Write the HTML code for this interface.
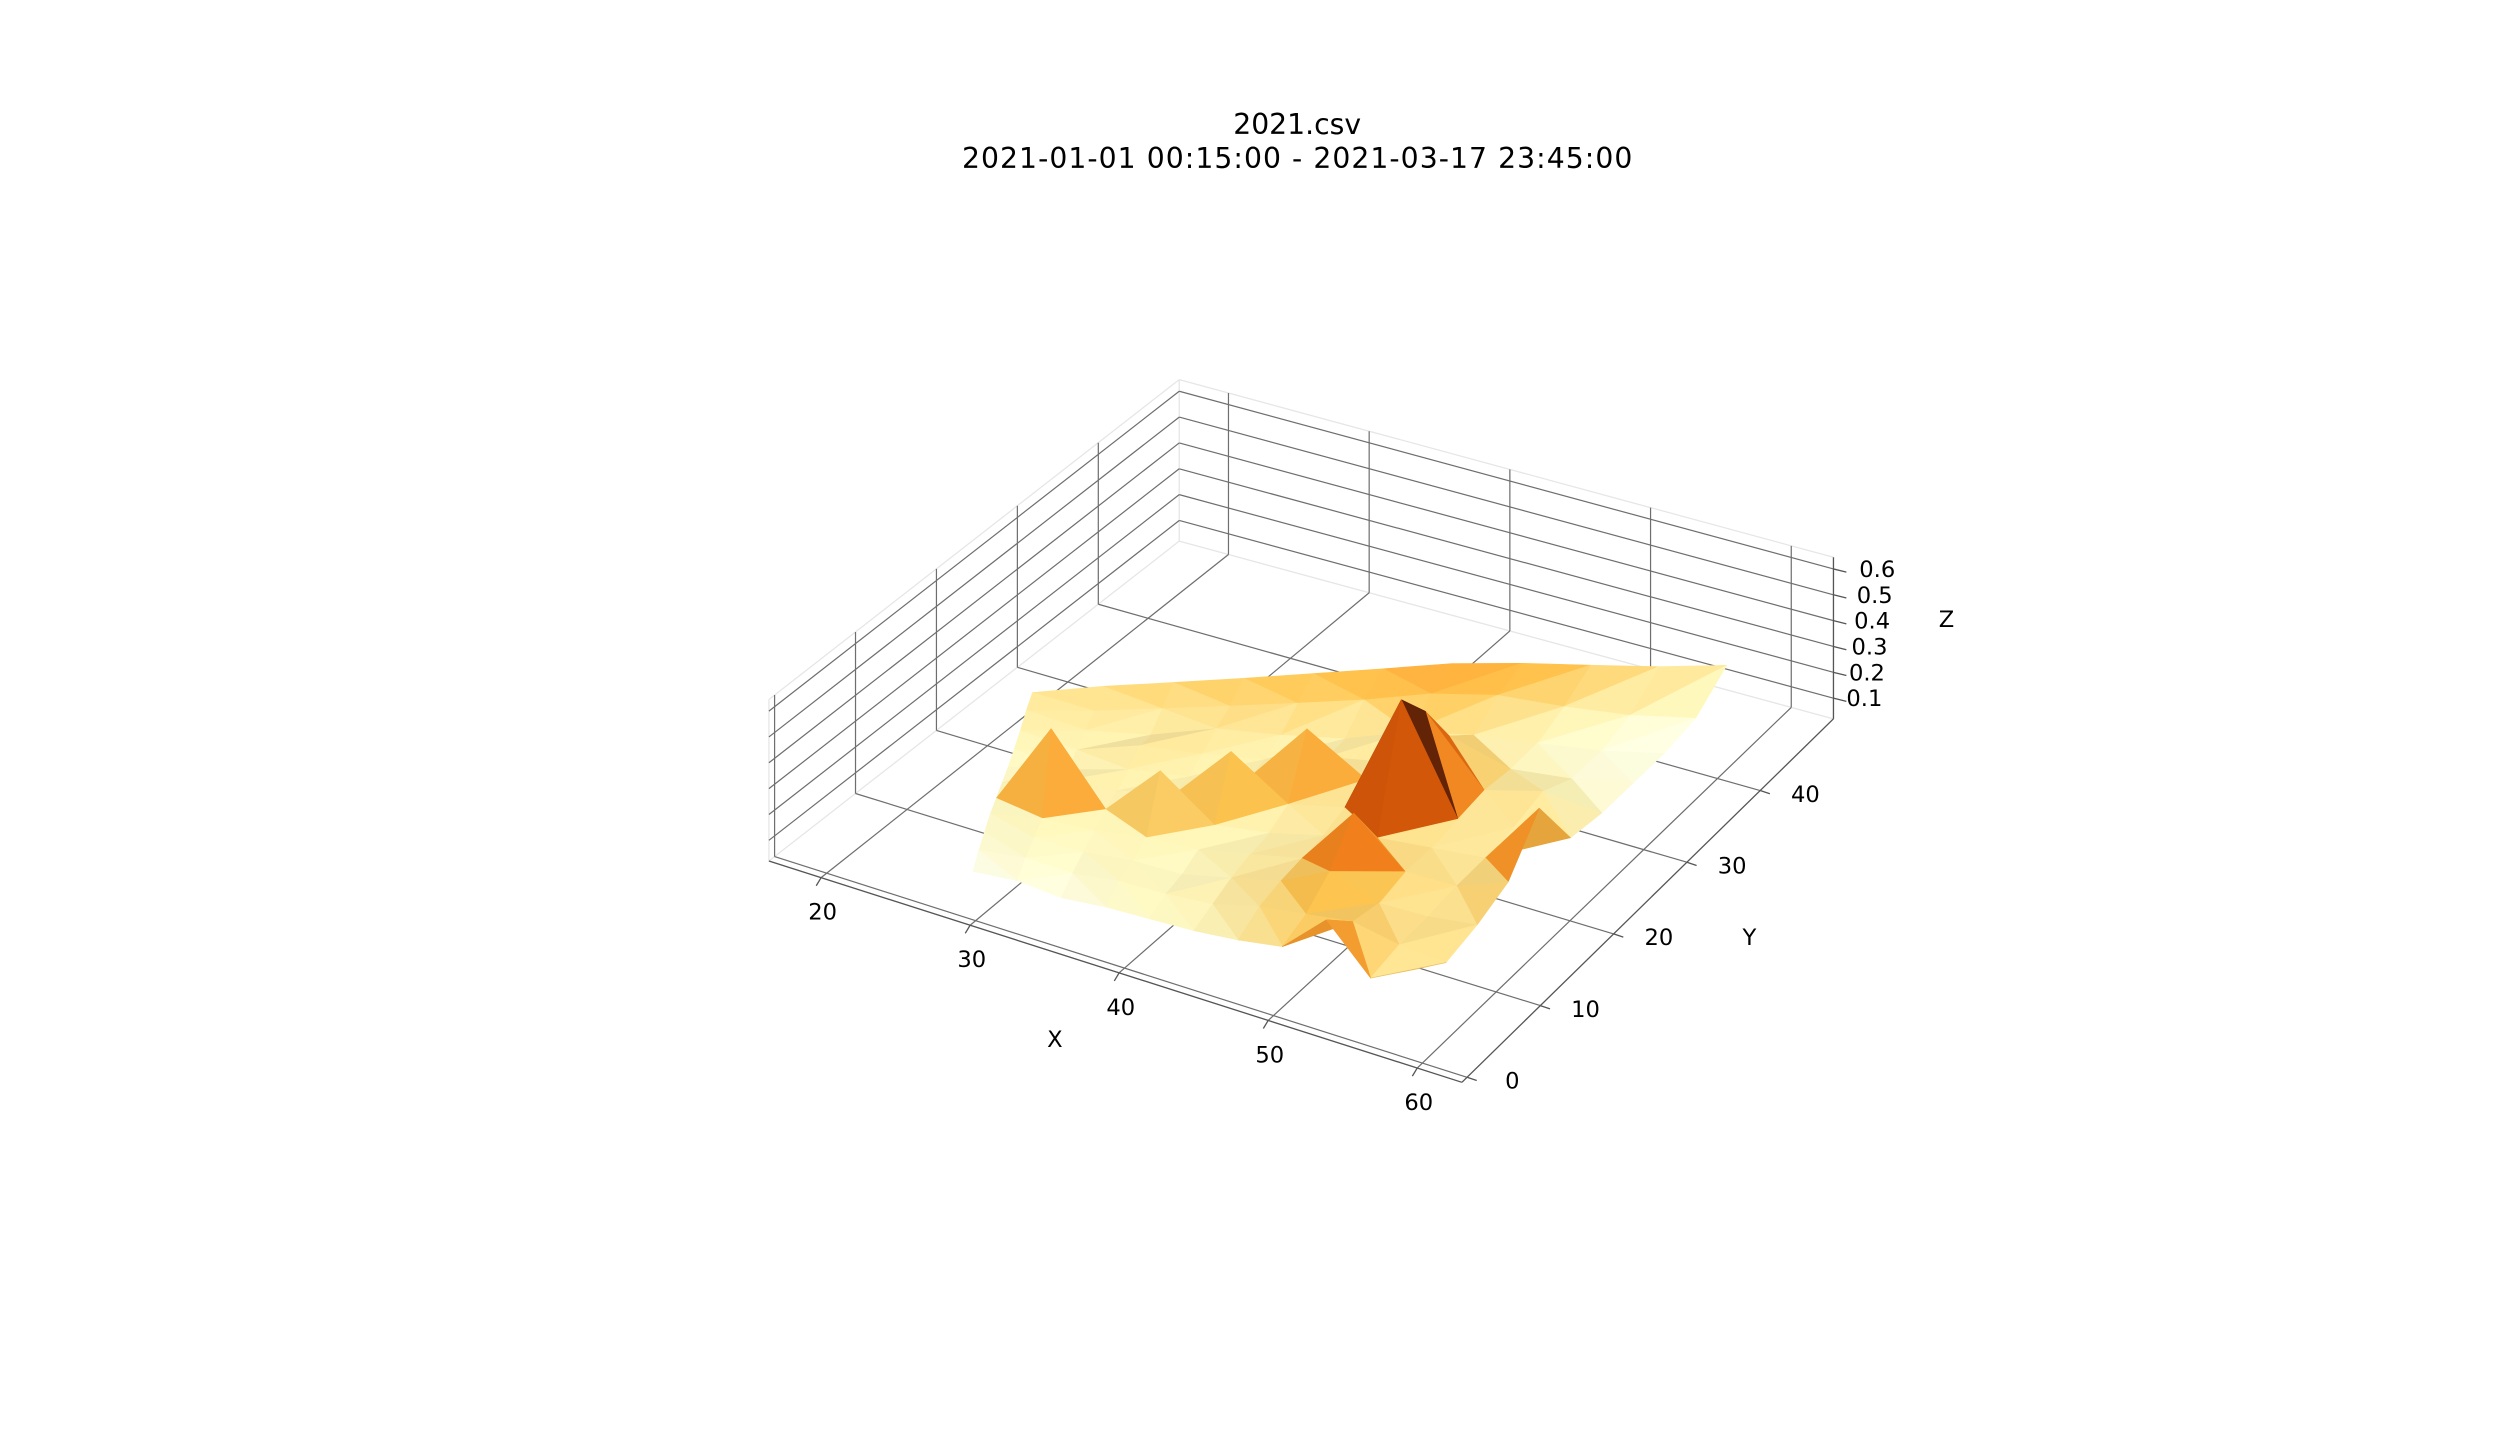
<!DOCTYPE html>
<html><head><meta charset="utf-8"><style>
html,body{margin:0;padding:0;background:#fff}
svg{display:block}
text{font-family:"DejaVu Sans","Liberation Sans",sans-serif;fill:#000}
</style></head><body>
<svg id="chart" width="2520" height="1440" viewBox="0 0 1560 891.43" xmlns="http://www.w3.org/2000/svg">
<rect width="1560" height="891.43" fill="#fff"/>
<text x="803" y="83" text-anchor="middle" font-size="17.5">2021.csv</text>
<text x="803" y="104" text-anchor="middle" font-size="17.5" textLength="415">2021-01-01 00:15:00 - 2021-03-17 23:45:00</text>
<g id="grid"></g>
<g id="surf"></g>
<g id="axes"></g>
</svg>
<script>
const xTicks=[20,30,40,50,60];
const yTicks=[0,10,20,30,40];
const zTicks=[0.1,0.2,0.3,0.4,0.5,0.6];
const zTickLabels=["0.1","0.2","0.3","0.4","0.5","0.6"];
const hullX=[28.5,58.5,57,22];
const hullY=[2.5,2,47,22];
const zRow0=[0.12,0.14,0.13,0.15,0.16,0.17,0.19,0.22,0.38,0.21,0.30];
const zRow1=[0.14,0.16,0.15,0.17,0.17,0.18,0.22,0.24,0.26,0.22,0.20];
const zRow2=[0.15,0.17,0.16,0.17,0.16,0.19,0.22,0.30,0.22,0.21,0.22];
const zRow3=[0.16,0.18,0.17,0.18,0.17,0.19,0.21,0.42,0.23,0.21,0.26];
const zRow4=[0.16,0.46,0.18,0.36,0.18,0.18,0.20,0.22,0.21,0.20,0.42];
const zRow5=[0.16,0.19,0.18,0.19,0.38,0.20,0.21,0.65,0.21,0.20,0.18];
const zRow6=[0.16,0.17,0.19,0.18,0.19,0.40,0.22,0.50,0.21,0.22,0.15];
const zRow7=[0.17,0.18,0.21,0.19,0.18,0.20,0.19,0.30,0.18,0.15,0.14];
const zRow8=[0.18,0.19,0.18,0.21,0.19,0.18,0.21,0.20,0.17,0.14,0.13];
const zRow9=[0.20,0.20,0.21,0.22,0.23,0.24,0.26,0.25,0.20,0.16,0.14];
const zRow10=[0.21,0.23,0.24,0.25,0.26,0.27,0.28,0.27,0.25,0.23,0.22];
const zRows=[zRow0,zRow1,zRow2,zRow3,zRow4,zRow5,zRow6,zRow7,zRow8,zRow9,zRow10];

const X0=16.5,X1=63,Y0=-0.7,Y1=50,Z0=0.02,Z1=0.645,ZS=160;
const F00=[476,533],F10=[905,670],F11=[1135,445],F01=[730,335];
function P(x,y,z){
  const u=(x-X0)/(X1-X0),v=(y-Y0)/(Y1-Y0);
  const a=(1-u)*(1-v),b=u*(1-v),c=u*v,d=(1-u)*v;
  return [a*F00[0]+b*F10[0]+c*F11[0]+d*F01[0], a*F00[1]+b*F10[1]+c*F11[1]+d*F01[1]-(z-Z0)*ZS];
}
const NS="http://www.w3.org/2000/svg";
function mk(tag,attrs,parent){const e=document.createElementNS(NS,tag);for(const k in attrs)e.setAttribute(k,attrs[k]);parent.appendChild(e);return e;}
function line(p,q,col,w,parent,name){
  const e=mk('line',{x1:p[0],y1:p[1],x2:q[0],y2:q[1],stroke:col,'stroke-width':w},parent);
  
  
  return e;
}
const grid=document.getElementById('grid'),axes=document.getElementById('axes'),surf=document.getElementById('surf');
const GC="#6e6e6e",GW=0.75,EC="#e6e6e6";
line(P(X0,Y0,Z1),P(X0,Y1,Z1),EC,0.8,grid,'pane-edge');
line(P(X0,Y1,Z1),P(X1,Y1,Z1),EC,0.8,grid,'pane-edge');
line(P(X0,Y1,Z0),P(X0,Y1,Z1),EC,0.8,grid,'pane-edge');
line(P(X0,Y0,Z0),P(X0,Y1,Z0),EC,0.8,grid,'pane-edge');
line(P(X0,Y1,Z0),P(X1,Y1,Z0),EC,0.8,grid,'pane-edge');
line(P(X0,Y0,Z0),P(X0,Y0,Z1),EC,0.8,grid,'pane-edge');
line(P(X1,Y1,Z0),P(X1,Y1,Z1),EC,0.8,grid,'pane-edge');
line(P(X0,Y0,Z0),P(X1,Y0,Z0),EC,0.8,grid,'pane-edge');
line(P(X1,Y0,Z0),P(X1,Y1,Z0),EC,0.8,grid,'pane-edge');
zTicks.forEach(z=>{
  line(P(X0,Y0,z),P(X0,Y1,z),GC,GW,grid,'z-gridline-left');
  line(P(X0,Y1,z),P(X1,Y1,z),GC,GW,grid,'z-gridline-back');
});
xTicks.forEach(x=>{
  line(P(x,Y0,Z0),P(x,Y1,Z0),GC,GW,grid,'x-gridline-floor');
  line(P(x,Y1,Z0),P(x,Y1,Z1),GC,GW,grid,'x-gridline-back');
});
yTicks.forEach(y=>{
  line(P(X0,y,Z0),P(X1,y,Z0),GC,GW,grid,'y-gridline-floor');
  line(P(X0,y,Z0),P(X0,y,Z1),GC,GW,grid,'y-gridline-left');
});
const cm=[[255,255,229],[255,247,188],[254,227,145],[254,196,79],[254,153,41],[236,112,20],[204,76,2],[153,52,4],[102,37,6]];
function cmap(t,f){t=Math.max(0,Math.min(1,t));const s=t*8,i=Math.min(7,Math.floor(s)),r=s-i;
  const c=cm[i].map((v,k)=>Math.round(Math.min(255,(v+(cm[i+1][k]-v)*r)*f)));return 'rgb('+c.join(',')+')';}
const N=zRows.length,M=zRow0.length;
function gxy(i,j){const u=i/(M-1),v=j/(N-1);
  const a=(1-u)*(1-v),b=u*(1-v),c=u*v,d=(1-u)*v;
  return [a*hullX[0]+b*hullX[1]+c*hullX[2]+d*hullX[3],a*hullY[0]+b*hullY[1]+c*hullY[2]+d*hullY[3]];}
const tris=[];
for(let j=0;j<N-1;j++)for(let i=0;i<M-1;i++){
  const q=[[i,j],[i+1,j],[i+1,j+1],[i,j+1]].map(([a,b])=>{const xy=gxy(a,b);return [xy[0],xy[1],zRows[b][a]];});
  const d1=Math.abs(q[0][2]-q[2][2]),d2=Math.abs(q[1][2]-q[3][2]);
  if(d1>d2){tris.push([q[0],q[1],q[3]]);tris.push([q[1],q[2],q[3]]);}
  else{tris.push([q[0],q[1],q[2]]);tris.push([q[0],q[2],q[3]]);}
}
let mmin=1e9,mmax=-1e9;
tris.forEach(t=>{t.mean=(t[0][2]+t[1][2]+t[2][2])/3;mmin=Math.min(mmin,t.mean);mmax=Math.max(mmax,t.mean);
  t.depth=t.reduce((s,p)=>s+P(p[0],p[1],Z0)[1],0)/3;});
tris.sort((a,b)=>a.depth-b.depth);
tris.forEach(t=>{
  const pts=t.map(p=>P(p[0],p[1],p[2]));
  const ux=t[1][0]-t[0][0],uy=t[1][1]-t[0][1],uz=(t[1][2]-t[0][2])*80;
  const vx=t[2][0]-t[0][0],vy=t[2][1]-t[0][1],vz=(t[2][2]-t[0][2])*80;
  let nx=uy*vz-uz*vy,ny=uz*vx-ux*vz,nz=ux*vy-uy*vx;const L=Math.hypot(nx,ny,nz)||1;
  if(nz<0){nx=-nx;ny=-ny;nz=-nz;}
  const f=0.94+0.07*((nx*0.4-ny*0.5+nz*0.77)/L);
  const col=cmap((t.mean-mmin)/(mmax-mmin),f);
  const e=mk('polygon',{points:pts.map(p=>p[0].toFixed(1)+','+p[1].toFixed(1)).join(' '),fill:col,stroke:col,'stroke-width':0.4,'stroke-linejoin':'round'},surf);
  
  
});
line(P(X0,Y0,Z0),P(X1,Y0,Z0),"#555",0.8,axes,'x-axis-line');
line(P(X1,Y0,Z0),P(X1,Y1,Z0),"#555",0.8,axes,'y-axis-line');
line(P(X1,Y1,Z0),P(X1,Y1,Z1),"#555",0.8,axes,'z-axis-line');
function txt(s,x,y,anchor,size,name){const e=mk('text',{x:x,y:y,'text-anchor':anchor,'font-size':size},axes);e.textContent=s;
  
  }
xTicks.forEach(x=>{const p=P(x,Y0,Z0);line(p,[p[0]-3,p[1]+5],"#555",0.8,axes,'x-tick');txt(String(x),p[0]+1,p[1]+26,'middle',14,'x-tick-label');});
yTicks.forEach(y=>{const p=P(X1,y,Z0);line(p,[p[0]+6,p[1]+2],"#555",0.8,axes,'y-tick');txt(String(y),p[0]+28,p[1]+7,'middle',14,'y-tick-label');});
zTicks.forEach((z,k)=>{const p=P(X1,Y1,z);line(p,[p[0]+8,p[1]+2],"#555",0.8,axes,'z-tick');txt(zTickLabels[k],p[0]+8+(z-0.1)*16,p[1]+5,'start',14,'z-tick-label');});
txt('X',653,648,'middle',14,'x-axis-title');
txt('Y',1083,585,'middle',14,'y-axis-title');
txt('Z',1205,388,'middle',14,'z-axis-title');
</script>
</body></html>
